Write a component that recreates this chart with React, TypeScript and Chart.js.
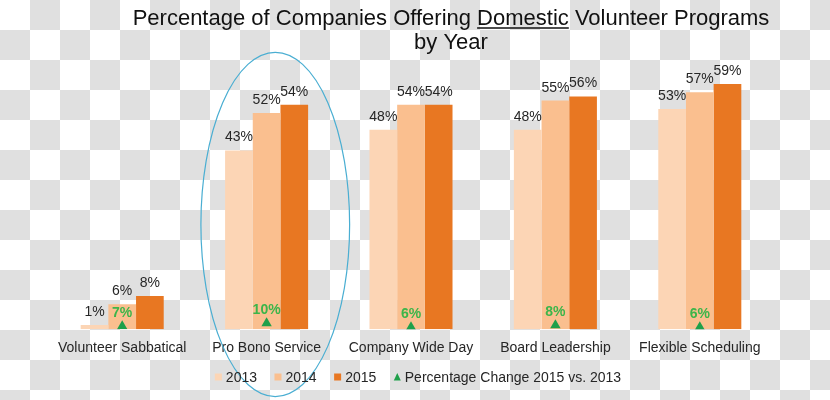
import React, { useEffect, useRef } from 'react';
import { Chart, registerables } from 'chart.js';

Chart.register(...registerables);

const categories = ['Volunteer Sabbatical', 'Pro Bono Service', 'Company Wide Day', 'Board Leadership', 'Flexible Scheduling'];
const values2013 = [1, 43, 48, 48, 53];
const values2014 = [6, 52, 54, 55, 57];
const values2015 = [8, 54, 54, 56, 59];
const changeValues = [7, 10, 6, 8, 6];
const seriesLabels = ['2013', '2014', '2015', 'Percentage Change 2015 vs. 2013'];
const titleParts = ['Percentage of Companies Offering ', 'Domestic', ' Volunteer Programs'];
const titleLine2 = 'by Year';
const highlightedCategory = 1;

const FONT = "'Liberation Sans', Arial, sans-serif";
const colors = ['#fcd5b5', '#fabf8f', '#e87722'];
const GREEN_TEXT = '#3cb54a';
const GREEN_MARK = '#1fa04a';
const TEXT = '#262626';

const titlePlugin = {
  id: 'customTitle',
  afterDraw(chart: any) {
    const { ctx, chartArea } = chart;
    const cx = (chartArea.left + chartArea.right) / 2 + 40;
    ctx.save();
    ctx.font = `22px ${FONT}`;
    ctx.fillStyle = '#111';
    ctx.textBaseline = 'alphabetic';
    ctx.textAlign = 'left';
    const widths = titleParts.map((t) => ctx.measureText(t).width);
    const total = widths.reduce((a, b) => a + b, 0);
    let x = cx - total / 2;
    const y1 = 25;
    titleParts.forEach((t, i) => {
      ctx.fillText(t, x, y1);
      if (i === 1) {
        ctx.strokeStyle = '#111';
        ctx.lineWidth = 1.3;
        ctx.beginPath();
        ctx.moveTo(x, y1 + 3);
        ctx.lineTo(x + widths[i], y1 + 3);
        ctx.stroke();
      }
      x += widths[i];
    });
    ctx.textAlign = 'center';
    ctx.fillText(titleLine2, cx, 49);
    ctx.restore();
  },
};

const labelPlugin = {
  id: 'valueLabels',
  afterDatasetsDraw(chart: any) {
    const { ctx } = chart;
    ctx.save();
    ctx.textAlign = 'center';
    ctx.textBaseline = 'alphabetic';
    chart.data.datasets.forEach((ds: any, di: number) => {
      const meta = chart.getDatasetMeta(di);
      meta.data.forEach((el: any, i: number) => {
        const v = ds.data[i];
        if (di < 3) {
          ctx.font = `14px ${FONT}`;
          ctx.fillStyle = TEXT;
          ctx.fillText(`${v}%`, el.x, el.y - 9);
        } else {
          ctx.font = `bold 14px ${FONT}`;
          ctx.fillStyle = GREEN_TEXT;
          ctx.fillText(`${v}%`, el.x, el.y - 9);
        }
      });
    });
    ctx.restore();
  },
};

const ellipsePlugin = {
  id: 'highlightEllipse',
  afterDraw(chart: any) {
    const { ctx } = chart;
    const xs = chart.scales.x;
    const ys = chart.scales.y;
    const cat = (xs.right - xs.left) / categories.length;
    const cx = xs.getPixelForValue(highlightedCategory) + 0.06 * cat;
    const top = ys.getPixelForValue(66.6);
    const bottom = ys.getPixelForValue(-16.2);
    ctx.save();
    ctx.strokeStyle = '#4aaed2';
    ctx.lineWidth = 1.2;
    ctx.beginPath();
    ctx.ellipse(cx, (top + bottom) / 2, 0.515 * cat, (bottom - top) / 2, 0, 0, Math.PI * 2);
    ctx.stroke();
    ctx.restore();
  },
};

const legendPlugin = {
  id: 'customLegend',
  afterDraw(chart: any) {
    const { ctx } = chart;
    const datasets = chart.data.datasets;
    const box = 7;
    const gap = 4;
    const spacing = 17.5;
    const y = 377;
    ctx.save();
    ctx.font = `14px ${FONT}`;
    ctx.textBaseline = 'middle';
    ctx.textAlign = 'left';
    const widths = datasets.map((d: any) => box + gap + ctx.measureText(d.label).width);
    const total = widths.reduce((a: number, b: number) => a + b, 0) + spacing * (datasets.length - 1);
    let x = chart.width / 2 + 3 - total / 2;
    datasets.forEach((d: any, i: number) => {
      if (d.type === 'line') {
        ctx.fillStyle = d.pointBackgroundColor;
        ctx.beginPath();
        ctx.moveTo(x + box / 2, y - box / 2 - 0.5);
        ctx.lineTo(x + box, y + box / 2);
        ctx.lineTo(x, y + box / 2);
        ctx.closePath();
        ctx.fill();
      } else {
        ctx.fillStyle = d.backgroundColor;
        ctx.fillRect(x, y - box / 2, box, box);
      }
      ctx.fillStyle = TEXT;
      ctx.fillText(d.label, x + box + gap, y + 1);
      x += widths[i] + spacing;
    });
    ctx.restore();
  },
};

export default function App() {
  const ref = useRef<HTMLCanvasElement | null>(null);
  useEffect(() => {
    if (!ref.current) return;
    Chart.defaults.font.family = FONT;
    Chart.defaults.color = TEXT;
    const barBase = { barPercentage: 1, categoryPercentage: 0.575, borderWidth: 0 };
    const chart = new Chart(ref.current, {
      type: 'bar',
      data: {
        labels: categories,
        datasets: [
          { ...barBase, label: seriesLabels[0], data: values2013, backgroundColor: colors[0] },
          { ...barBase, label: seriesLabels[1], data: values2014, backgroundColor: colors[1] },
          { ...barBase, label: seriesLabels[2], data: values2015, backgroundColor: colors[2] },
          {
            type: 'line',
            label: seriesLabels[3],
            data: changeValues,
            yAxisID: 'y2',
            showLine: false,
            pointStyle: 'triangle',
            pointRadius: 6,
            pointBorderWidth: 0,
            pointBackgroundColor: GREEN_MARK,
            pointBorderColor: GREEN_MARK,
            backgroundColor: GREEN_MARK,
            borderColor: GREEN_MARK,
            order: -1,
          } as any,
        ],
      },
      options: {
        animation: false,
        responsive: false,
        devicePixelRatio: 1,
        layout: { padding: { left: 50, right: 58, top: 59, bottom: 32 } },
        scales: {
          x: {
            grid: { display: false, drawTicks: false },
            border: { display: false },
            ticks: { font: { size: 14 }, color: TEXT, padding: 11, maxRotation: 0, autoSkip: false },
          },
          y: { display: false, min: 0, max: 65 },
          y2: { display: false, min: 4, max: 275 },
        },
        plugins: {
          legend: { display: false },
          tooltip: { enabled: false },
          title: { display: false },
        },
      },
      plugins: [labelPlugin, ellipsePlugin, titlePlugin, legendPlugin],
    });
    return () => chart.destroy();
  }, []);

  return (
    <div
      style={{
        position: 'fixed',
        left: 0,
        top: 0,
        width: 830,
        height: 400,
        backgroundImage: 'conic-gradient(#e0e0e0 0 25%, #ffffff 0 50%, #e0e0e0 0 75%, #ffffff 0)',
        backgroundSize: '60px 60px',
      }}
    >
      <canvas ref={ref} width={830} height={400} style={{ display: 'block', width: 830, height: 400 }} />
    </div>
  );
}
